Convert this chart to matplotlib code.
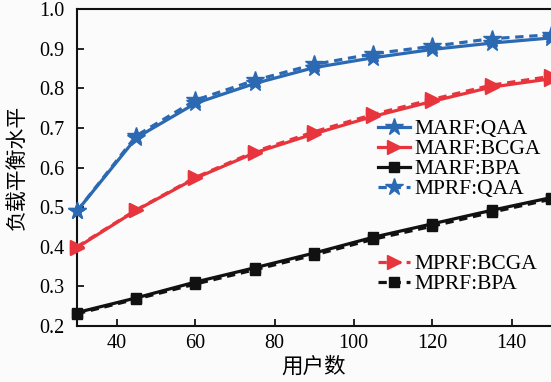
import matplotlib.pyplot as plt

users = [30, 45, 60, 75, 90, 105, 120, 135, 150]

marf_qaa  = [0.490, 0.675, 0.762, 0.812, 0.852, 0.877, 0.898, 0.914, 0.927]
mprf_qaa  = [0.490, 0.680, 0.770, 0.820, 0.860, 0.887, 0.906, 0.925, 0.935]
marf_bcga = [0.398, 0.492, 0.573, 0.637, 0.685, 0.729, 0.767, 0.803, 0.824]
mprf_bcga = [0.400, 0.493, 0.575, 0.640, 0.690, 0.734, 0.772, 0.808, 0.830]
marf_bpa  = [0.234, 0.271, 0.311, 0.347, 0.384, 0.424, 0.458, 0.492, 0.524]
mprf_bpa  = [0.231, 0.268, 0.306, 0.342, 0.379, 0.419, 0.452, 0.487, 0.520]

blue = "#2b69b2"
red = "#e8343c"
black = "#111111"
serif = "Liberation Serif"
cjk = ["Noto Sans CJK SC", "DejaVu Sans"]

fig = plt.figure(figsize=(5.51, 3.82), dpi=100)
fig.patch.set_facecolor("#fbfbfb")
W, H = 551, 382
ax = fig.add_axes([77 / W, (H - 326) / H, (551 - 77) / W, (326 - 9) / H])
ax.set_facecolor("#fbfbfb")

lw = 2.3
dash = (0, (2.6, 1.8))
series = [
    (marf_qaa, blue, "-", "*", 13, "MARF:QAA"),
    (marf_bcga, red, "-", ">", 10, "MARF:BCGA"),
    (marf_bpa, black, "-", "s", 7.5, "MARF:BPA"),
    (mprf_qaa, blue, dash, "*", 13, "MPRF:QAA"),
    (mprf_bcga, red, dash, ">", 10, "MPRF:BCGA"),
    (mprf_bpa, black, dash, "s", 7.5, "MPRF:BPA"),
]
handles = []
for vals, c, ls, m, ms, name in series:
    ln, = ax.plot(users, vals, color=c, linestyle=ls, linewidth=lw, marker=m,
                  markersize=ms, markeredgecolor=c, markerfacecolor=c,
                  clip_on=False, zorder=3, label=name)
    handles.append(ln)

ax.set_xlim(30, 150)
ax.set_ylim(0.2, 1.0)
ax.set_xticks([40, 60, 80, 100, 120, 140])
ax.set_yticks([0.2, 0.3, 0.4, 0.5, 0.6, 0.7, 0.8, 0.9, 1.0])
ax.set_yticklabels(["0.2", "0.3", "0.4", "0.5", "0.6", "0.7", "0.8", "0.9", "1.0"])
ax.tick_params(direction="in", length=5, width=1.2, labelsize=14.5)
ax.tick_params(axis="y", pad=9)
ax.tick_params(axis="x", pad=6)
for lab in ax.get_xticklabels() + ax.get_yticklabels():
    lab.set_fontfamily(serif)
for s in ["left", "bottom", "top"]:
    ax.spines[s].set_linewidth(1.5)
    ax.spines[s].set_color("#111111")
ax.spines["right"].set_visible(False)

ax.set_xlabel("用户数", family=cjk, fontsize=15.5, labelpad=2)
ax.set_ylabel("负载平衡水平", family=cjk, fontsize=15, labelpad=8)

leg_kw = dict(loc="upper left", frameon=False, handlelength=1.5, handletextpad=0.2,
              labelspacing=0.0, borderaxespad=0, borderpad=0,
              prop={"family": serif, "size": 15.5})
fig.legend(handles=handles[:4], bbox_to_anchor=(378 / W, 1 - 119 / H), **leg_kw)
fig.legend(handles=handles[4:], bbox_to_anchor=(378 / W, 1 - 254 / H), **leg_kw)

fig.savefig("out.png", dpi=100, facecolor=fig.get_facecolor())
